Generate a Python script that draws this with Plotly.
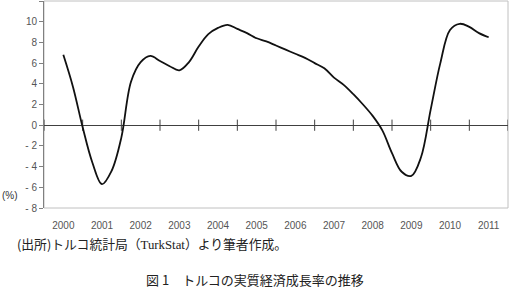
import plotly.graph_objects as go

t = [2000 + 0.25 * i for i in range(45)]
growth = [6.8, 3.7, -0.2, -3.6, -5.7, -4.4, -1.2, 4.2,
          6.1, 6.7, 6.2, 5.7, 5.3, 6.1, 7.6, 8.8,
          9.4, 9.7, 9.3, 8.9, 8.4, 8.1, 7.7, 7.3,
          6.9, 6.5, 6.0, 5.5, 4.6, 3.9, 3.0, 2.0,
          0.9, -0.5, -2.7, -4.5, -4.9, -3.1, 1.5, 6.0,
          9.2, 9.8, 9.5, 8.9, 8.5]

years = list(range(2000, 2012))
year_labels = [str(y) for y in years]
tick_bounds = [y - 0.5 for y in years] + [years[-1] + 0.5]
y_vals = [-8, -6, -4, -2, 0, 2, 4, 6, 8, 10, 12]
y_text = ["- 8", "- 6", "- 4", "- 2", "0", "2", "4", "6", "8", "10", "12"]

fig = go.Figure()

# category tick marks on the zero line
fig.add_trace(go.Scatter(
    x=tick_bounds, y=[0] * len(tick_bounds), mode="markers",
    marker=dict(symbol="line-ns-open", size=8, color="#404040",
                line=dict(width=1, color="#404040")),
    hoverinfo="skip", showlegend=False))

fig.add_trace(go.Scatter(
    x=t, y=growth, mode="lines",
    line=dict(color="#111111", width=1.8, shape="spline", smoothing=1),
    showlegend=False))

fig.update_layout(
    width=513, height=293,
    margin=dict(l=44, r=5, t=1, b=85),
    paper_bgcolor="white", plot_bgcolor="white",
    font=dict(family="Liberation Sans, Arial, sans-serif", size=10, color="#555555"),
    xaxis=dict(range=[1999.5, 2011.5], tickvals=years, ticktext=year_labels,
               ticks="", showgrid=False, zeroline=False, showline=False,
               ticklabelstandoff=10, tickfont=dict(size=10, color="#555555")),
    yaxis=dict(range=[-8, 12], tickvals=y_vals, ticktext=y_text,
               ticks="outside", ticklen=4, tickcolor="#808080",
               showline=True, linecolor="#808080", linewidth=1,
               showgrid=False, zeroline=True, zerolinecolor="#404040",
               zerolinewidth=1.2, tickfont=dict(size=10, color="#555555")),
    shapes=[dict(type="rect", xref="paper", yref="paper", x0=0, x1=1, y0=0, y1=1,
                 line=dict(color="#c0c0c0", width=1), layer="below")],
    annotations=[
        dict(text="(%)", xref="paper", yref="paper", x=0, xshift=-44, y=0.058,
             xanchor="left", yanchor="middle", showarrow=False,
             font=dict(size=10, color="#333333")),
        dict(text="(出所)トルコ統計局（<span style=\"font-family:'Liberation Serif'\">TurkStat</span>）より筆者作成。",
             xref="paper", yref="paper", x=0, xshift=-29, y=-0.172,
             xanchor="left", yanchor="middle", showarrow=False,
             font=dict(family="Noto Sans CJK JP", size=12.8, color="#222222")),
        dict(text="図 1　トルコの実質経済成長率の推移",
             xref="paper", yref="paper", x=0.455, y=-0.343,
             xanchor="center", yanchor="middle", showarrow=False,
             font=dict(family="Noto Sans CJK JP", size=13, color="#222222")),
    ],
)

fig.write_html("out.html")
